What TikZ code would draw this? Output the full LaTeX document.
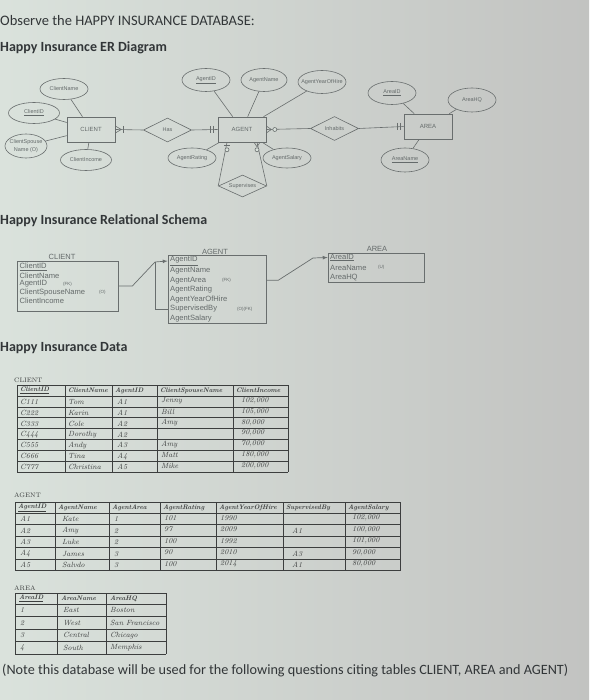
\documentclass[tikz,border=0pt]{standalone}
\usepackage{fontspec}
\newfontfamily\calibri{Carlito}
\newfontfamily\arialf{Liberation Sans}
\usetikzlibrary{shapes.geometric,positioning}

\definecolor{inkdark}{RGB}{50,54,56}
\definecolor{inkgray}{RGB}{100,106,106}
\definecolor{linegray}{RGB}{105,110,110}
\definecolor{tabink}{RGB}{60,62,62}
\definecolor{bgleft}{RGB}{218,226,220}
\definecolor{bgright}{RGB}{194,195,193}

\newcommand{\tb}[1]{\makebox[0pt]{#1}}

\tikzset{
	heading/.style={anchor=west, inner sep=0pt, text=inkdark, font=\calibri\fontsize{14.5}{16}\selectfont},
	subhead/.style={heading, font=\calibri\bfseries\fontsize{14}{16}\selectfont},
	ent/.style={draw=linegray, line width=0.6pt, minimum width=48pt, minimum height=25pt, inner sep=0pt, text=inkgray, font=\arialf\fontsize{6}{7}\selectfont},
	attr/.style={ellipse, draw=linegray, line width=0.6pt, minimum width=48pt, minimum height=21pt, inner sep=0pt, text=inkgray, font=\arialf\fontsize{5.5}{6.5}\selectfont},
	rel/.style={diamond, aspect=2, draw=linegray, line width=0.6pt, minimum width=48pt, minimum height=24pt, inner sep=0pt, text=inkgray, font=\arialf\fontsize{5.5}{6.5}\selectfont},
	erline/.style={draw=linegray, line width=0.6pt},
	sbox/.style={draw=linegray, line width=0.7pt, inner sep=0pt},
	slabel/.style={inner sep=0pt, text=inkgray, font=\arialf\fontsize{7.5}{8}\selectfont},
	srow/.style={anchor=west, inner sep=0pt, text=inkgray, font=\arialf\fontsize{7.6}{8}\selectfont},
	snote/.style={anchor=west, inner sep=0pt, text=inkgray, font=\arialf\fontsize{4.5}{5}\selectfont},
	sline/.style={draw=linegray, line width=0.7pt},
	tlabel/.style={anchor=west, inner sep=0pt, text=tabink, font=\fontsize{6.5}{7}\selectfont},
	thead/.style={anchor=west, inner sep=0pt, text=tabink, font=\bfseries\itshape\fontsize{6.6}{8}\selectfont},
	tcell/.style={anchor=west, inner sep=0pt, text=tabink, font=\itshape\fontsize{7.5}{8}\selectfont},
	tgrid/.style={draw=tabink, line width=0.5pt}
}

\begin{document}
\begin{tikzpicture}[x=1pt,y=-1pt]
	% Background
	\useasboundingbox (0,0) rectangle (589,700);
	\shade[left color=bgleft, right color=bgright] (0,0) rectangle (589,700);
	
	% Headings
	\node[heading] (title) at (0,21) {Observe the HAPPY INSURANCE DATABASE:};
	\node[subhead] (erhead) at (0,48) {Happy Insurance ER Diagram};
	
	% ER entities and relationships
	\node[ent] (client) at (91,129.5) {CLIENT};
	\node[ent] (agent) at (242,129.5) {AGENT};
	\node[ent] (area) at (428,126.5) {AREA};
	\node[rel] (has) at (167.5,130) {\tb{Has}};
	\node[rel] (inhabits) at (334.5,128.5) {\tb{Inhabits}};
	\node[rel, minimum height=22pt] (supervises) at (242.5,186) {\tb{Supervises}};
	
	% ER attributes
	\node[attr] (clientname) at (64,89) {\tb{ClientName}};
	\node[attr, minimum width=51pt] (clientid) at (34,113) {\tb{\underline{ClientID}}};
	\node[attr, minimum width=42pt, minimum height=24pt] (spouse) at (26,146) {\tb{\shortstack{ClientSpouse\\Name (O)}}};
	\node[attr, minimum width=51pt] (clientincome) at (86,160) {\tb{ClientIncome}};
	\node[attr, minimum height=23pt] (agentid) at (206,80) {\tb{\underline{AgentID}}};
	\node[attr, minimum width=46pt, minimum height=23pt] (agentname) at (264,80) {\tb{AgentName}};
	\node[attr, minimum height=23pt] (agentyear) at (322,82) {\tb{AgentYearOfHire}};
	\node[attr, minimum height=20pt] (agentrating) at (192,158) {\tb{AgentRating}};
	\node[attr, minimum height=20pt] (agentsalary) at (287,158) {\tb{AgentSalary}};
	\node[attr, minimum height=23pt] (areaid) at (392,93) {\tb{\underline{AreaID}}};
	\node[attr, minimum height=24pt] (areahq) at (472,100) {\tb{AreaHQ}};
	\node[attr, minimum height=24pt] (areaname) at (405,160) {\tb{\underline{AreaName}}};
	
	% ER attribute lines
	\foreach \a in {clientname,clientid,spouse,clientincome}
		\draw[erline] (\a) -- (client);
	\foreach \a in {agentid,agentname,agentyear,agentrating,agentsalary}
		\draw[erline] (\a) -- (agent);
	\foreach \a in {areaid,areahq,areaname}
		\draw[erline] (\a) -- (area);
	
	% ER relationship lines
	\draw[erline] (client.east) -- (has.west);
	\draw[erline] (has.east) -- (agent.west);
	\draw[erline] (agent.east) -- (inhabits.west);
	\draw[erline] (inhabits.east) -- (area.west);
	\draw[erline] ([xshift=-15]agent.south) -- (supervises.west);
	\draw[erline] ([xshift=15]agent.south) -- (supervises.east);
	
	% Cardinality marks
	\draw[erline] ([yshift=3.5]client.east) -- ([xshift=6]client.east) -- ([yshift=-3.5]client.east);
	\draw[erline] ([xshift=7.5,yshift=3.5]client.east) -- ([xshift=7.5,yshift=-3.5]client.east);
	\foreach \d in {4,7}
		\draw[erline] ([xshift=-\d,yshift=3.5]agent.west) -- ([xshift=-\d,yshift=-3.5]agent.west);
	\draw[erline] ([yshift=3.5]agent.east) -- ([xshift=5]agent.east) -- ([yshift=-3.5]agent.east);
	\draw[erline, fill=bgleft] ([xshift=8.5]agent.east) circle (2);
	\foreach \d in {3,6}
		\draw[erline] ([xshift=-\d,yshift=3.5]area.west) -- ([xshift=-\d,yshift=-3.5]area.west);
	\draw[erline] ([xshift=-18,yshift=-3.5]agent.south) -- ([xshift=-12,yshift=-3.5]agent.south);
	\draw[erline, fill=bgleft] ([xshift=-15,yshift=-7.5]agent.south) circle (2);
	\draw[erline] ([xshift=12]agent.south) -- ([xshift=15,yshift=-4.5]agent.south) -- ([xshift=18]agent.south);
	\draw[erline, fill=bgleft] ([xshift=15,yshift=-7.5]agent.south) circle (2);
	
	% Relational schema
	\node[subhead] (schemahead) at (0,221) {Happy Insurance Relational Schema};
	
	% CLIENT relation
	\node[slabel] (sclientlbl) at (62,257) {CLIENT};
	\node[sbox, minimum width=101pt, minimum height=50pt] (sclient) at (67.5,286) {};
	\foreach \t [count=\i] in {\underline{ClientID},ClientName,AgentID,ClientSpouseName,ClientIncome}
		\node[srow] (sc\i) at (19.5,267+8.5*\i-8.5) {\t};
	\node[snote] (scfk) at (63,284) {(FK)};
	\node[snote] (sco) at (99,292.5) {(O)};
	
	% AGENT relation
	\node[slabel] (sagentlbl) at (215,252) {AGENT};
	\node[sbox, minimum width=98pt, minimum height=68pt] (sagent) at (217,289) {};
	\foreach \t [count=\i] in {\underline{AgentID},AgentName,AgentArea,AgentRating,AgentYearOfHire,SupervisedBy,AgentSalary}
		\node[srow] (sa\i) at (170,261+9.6*\i-9.6) {\t};
	\node[snote] (safk) at (222,280.2) {(FK)};
	\node[snote] (saofk) at (237,309) {(O)(FK)};
	
	% AREA relation
	\node[slabel] (sarealbl) at (377,249) {AREA};
	\node[sbox, minimum width=96pt, minimum height=29pt] (sarea) at (376,267.5) {};
	\foreach \t [count=\i] in {\underline{AreaID},AreaName,AreaHQ}
		\node[srow] (sr\i) at (330,257.5+10*\i-10) {\t};
	\node[snote] (sru) at (378,267.5) {(U)};
	
	% Schema connectors
	\coordinate (jn) at (155,262);
	\coordinate (bendb) at (313,258);
	\draw[sline, -latex] (sclient.east) -- ++(14,0) -- (jn) -- (sagent.west |- sa1);
	\draw[sline] (sagent.west |- sa6) -- (jn |- sa6) -- (jn);
	\draw[sline, -latex] (sagent.east |- sa3) -- ++(12,0) -- (bendb) -- (sarea.west |- sr1);
	
	% Data tables
	\node[subhead] (datahead) at (0,348) {Happy Insurance Data};
	
	% CLIENT data
	\node[tlabel] (tclient) at (14,380) {CLIENT};
	\draw[tgrid] (17,385) -- (288,385);
	\foreach \i in {0,...,7}
		\draw[tgrid] (17,396+10.85*\i) -- (288,396+10.85*\i);
	\foreach \x in {17,65,112,157,233,288}
		\draw[tgrid] (\x,385) -- (\x,471.95);
	\foreach \h/\x [count=\j] in {\underline{ClientID}/17,ClientName/65,AgentID/112,ClientSpouseName/157,ClientIncome/233}
		\node[thead] (ch\j) at (\x+3,390.5) {\h};
	\foreach \a/\b/\c/\d/\e [count=\r] in {C111/Tom/A1/Jenny/{102,000},C222/Karin/A1/Bill/{105,000},C333/Cole/A2/Amy/{80,000},C444/Dorothy/A2//{90,000},C555/Andy/A3/Amy/{70,000},C666/Tina/A4/Matt/{180,000},C777/Christina/A5/Mike/{200,000}}{
		\pgfmathsetmacro\yy{396+10.85*(\r-0.5)}
		\node[tcell] (cd\r a) at (20,\yy+0.5) {\a};
		\node[tcell] (cd\r b) at (68,\yy+0.5) {\b};
		\node[tcell] (cd\r c) at (117,\yy+0.5) {\c};
		\node[tcell] (cd\r d) at (161,\yy-0.5) {\d};
		\node[tcell] (cd\r e) at (241,\yy-0.8) {\e};
	}
	
	% AGENT data
	\node[tlabel] (tagent) at (14,495) {AGENT};
	\draw[tgrid] (15,502) -- (400,502);
	\foreach \i in {0,...,5}
		\draw[tgrid] (15,513+11.5*\i) -- (400,513+11.5*\i);
	\foreach \x in {15,55,109,160,216,283,345,400}
		\draw[tgrid] (\x,502) -- (\x,570.5);
	\foreach \h/\x [count=\j] in {\underline{AgentID}/15,AgentName/55,AgentArea/109,AgentRating/160,AgentYearOfHire/216,SupervisedBy/283,AgentSalary/345}
		\node[thead] (ah\j) at (\x+3,507.5) {\h};
	\foreach \a/\b/\c/\d/\e/\f/\g [count=\r] in {A1/Kate/1/101/1990//{102,000},A2/Amy/2/97/2009/A1/{100,000},A3/Luke/2/100/1992//{101,000},A4/James/3/90/2010/A3/{90,000},A5/Salvdo/3/100/2014/A1/{80,000}}{
		\pgfmathsetmacro\yy{513+11.5*(\r-0.5)}
		\node[tcell] (ad\r a) at (20,\yy+0.5) {\a};
		\node[tcell] (ad\r b) at (62,\yy+0.5) {\b};
		\node[tcell] (ad\r c) at (114,\yy+0.5) {\c};
		\node[tcell] (ad\r d) at (164,\yy-0.8) {\d};
		\node[tcell] (ad\r e) at (220,\yy-0.8) {\e};
		\node[tcell] (ad\r f) at (292,\yy+0.5) {\f};
		\node[tcell] (ad\r g) at (352,\yy-1) {\g};
	}
	
	% AREA data
	\node[tlabel] (tarea) at (14,588) {AREA};
	\draw[tgrid] (15,593) -- (166,593);
	\foreach \i in {0,...,4}
		\draw[tgrid] (15,604+12.5*\i) -- (166,604+12.5*\i);
	\foreach \x in {15,57,106,166}
		\draw[tgrid] (\x,593) -- (\x,654);
	\foreach \h/\x [count=\j] in {\underline{AreaID}/15,AreaName/57,AreaHQ/106}
		\node[thead] (rh\j) at (\x+4,598.5) {\h};
	\foreach \a/\b/\c [count=\r] in {1/East/Boston,2/West/San Francisco,3/Central/Chicago,4/South/Memphis}{
		\pgfmathsetmacro\yy{604+12.5*(\r-0.5)}
		\node[tcell] (rd\r a) at (20,\yy) {\a};
		\node[tcell] (rd\r b) at (63,\yy) {\b};
		\node[tcell] (rd\r c) at (110,\yy) {\c};
	}
	
	% Closing note
	\node[heading, font=\calibri\fontsize{14.2}{16}\selectfont] (note) at (2,671) {(Note this database will be used for the following questions citing tables CLIENT, AREA and AGENT)};
\end{tikzpicture}
\end{document}
